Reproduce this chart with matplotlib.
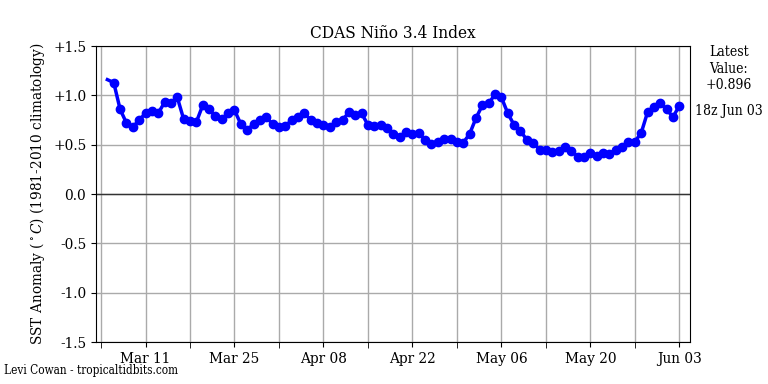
import numpy as np
import pandas as pd
import matplotlib
matplotlib.use("Agg")
import matplotlib.pyplot as plt
import matplotlib.dates as mdates
from matplotlib.ticker import FuncFormatter

plt.rcParams["font.family"] = "DejaVu Serif"
plt.rcParams["font.stretch"] = "condensed"
plt.rcParams["mathtext.fontset"] = "dejavuserif"

# daily Nino 3.4 anomaly, Mar 05 .. Jun 03 (first value drawn without marker)
dates = pd.date_range("2024-03-05", "2024-06-03", freq="D")
anom = [
    1.16,
    1.13, 0.86, 0.72, 0.68, 0.75, 0.82, 0.84, 0.82, 0.93, 0.92,
    0.98, 0.76, 0.74, 0.73, 0.90, 0.86, 0.79, 0.76, 0.82, 0.85,
    0.71, 0.65, 0.71, 0.75, 0.78, 0.71, 0.68, 0.69, 0.75, 0.78,
    0.82, 0.75, 0.72, 0.70, 0.68, 0.73, 0.75, 0.83, 0.80, 0.82,
    0.70, 0.69, 0.70, 0.67, 0.61, 0.58, 0.63, 0.61, 0.62, 0.55,
    0.51, 0.53, 0.56, 0.56, 0.53, 0.52, 0.61, 0.77, 0.90, 0.92,
    1.01, 0.98, 0.82, 0.70, 0.64, 0.55, 0.52, 0.45, 0.45, 0.43,
    0.44, 0.48, 0.44, 0.38, 0.38, 0.42, 0.39, 0.42, 0.41, 0.45,
    0.48, 0.53, 0.53, 0.62, 0.83, 0.88, 0.92, 0.86, 0.78, 0.896,
]
latest = "+0.896"
latest_time = "18z Jun 03"

fig = plt.figure(figsize=(7.68, 3.84), dpi=100)
ax = fig.add_axes([0.125, 0.109, 0.773, 0.771])

ax.axhline(0, color="#333333", linewidth=1.0, zorder=2)
ax.plot(dates, anom, color="#0000ff", linewidth=2.5, zorder=3)
ax.plot(dates[1:], anom[1:], "o", color="#0000ff", markersize=6, zorder=4)

ax.set_ylim(-1.5, 1.5)
ax.set_yticks(np.arange(-1.5, 1.51, 0.5))
ax.yaxis.set_major_formatter(FuncFormatter(lambda v, p: "0.0" if abs(v) < 1e-9 else f"{v:+.1f}"))
ax.set_xlim(pd.Timestamp("2024-03-03 05:00"), pd.Timestamp("2024-06-04 15:00"))

# weekly grid, labels every two weeks
weeks = pd.date_range("2024-03-04", "2024-06-03", freq="7D")
ax.set_xticks(weeks[1::2])
ax.set_xticks(weeks[0::2], minor=True)
ax.xaxis.set_major_formatter(mdates.DateFormatter("%b %d"))
ax.grid(True, which="both", axis="x", color="#aaaaaa", linewidth=1.0, zorder=0)
ax.grid(True, which="major", axis="y", color="#aaaaaa", linewidth=1.0, zorder=0)
ax.set_axisbelow(True)
ax.tick_params(axis="both", which="both", labelsize=11)
ax.tick_params(axis="x", which="minor", length=4)

ax.set_title("CDAS Niño 3.4 Index", fontsize=12.3)
ax.set_ylabel("SST Anomaly ($^\\circ C$) (1981-2010 climatology)", fontsize=11)

fig.text(0.949, 0.882, "Latest\nValue:\n" + latest, ha="center", va="top", fontsize=10)
fig.text(0.949, 0.711, latest_time, ha="center", va="center", fontsize=10)
fig.text(0.005, 0.035, "Levi Cowan - tropicaltidbits.com", ha="left", va="center", fontsize=8.5)

fig.savefig("out.png", dpi=100)
